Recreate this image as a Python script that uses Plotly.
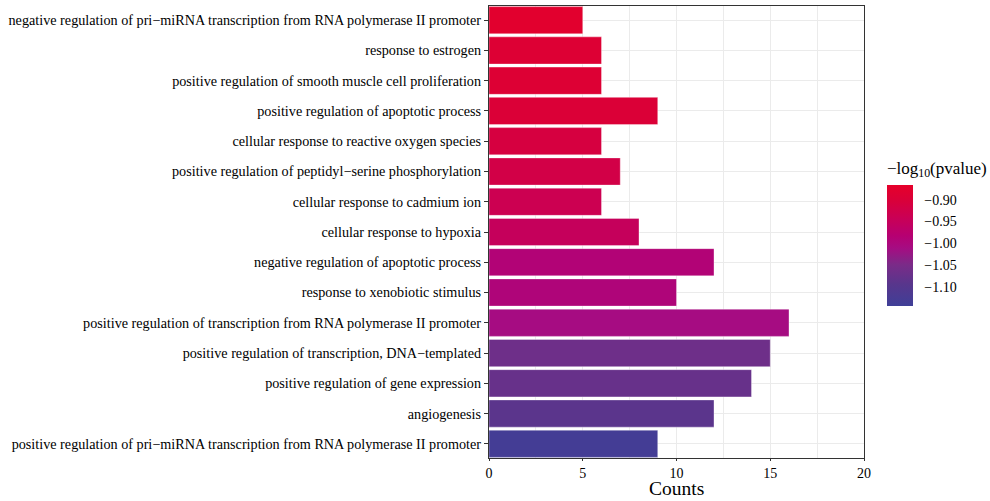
import plotly.graph_objects as go

# GO biological process terms (top to bottom)
terms = [
    "negative regulation of pri−miRNA transcription from RNA polymerase II promoter",
    "response to estrogen",
    "positive regulation of smooth muscle cell proliferation",
    "positive regulation of apoptotic process",
    "cellular response to reactive oxygen species",
    "positive regulation of peptidyl−serine phosphorylation",
    "cellular response to cadmium ion",
    "cellular response to hypoxia",
    "negative regulation of apoptotic process",
    "response to xenobiotic stimulus",
    "positive regulation of transcription from RNA polymerase II promoter",
    "positive regulation of transcription, DNA−templated",
    "positive regulation of gene expression",
    "angiogenesis",
    "positive regulation of pri−miRNA transcription from RNA polymerase II promoter",
]
counts = [5, 6, 6, 9, 6, 7, 6, 8, 12, 10, 16, 15, 14, 12, 9]
neg_log10_p = [-0.875, -0.89, -0.89, -0.895, -0.91, -0.92, -0.935, -0.95,
               -0.99, -0.995, -1.01, -1.065, -1.075, -1.09, -1.135]
cbar_ticks = [-0.90, -0.95, -1.00, -1.05, -1.10]

colorscale = [
    [0.00, "#3F3F97"],
    [0.18, "#58368C"],
    [0.34, "#7A2B88"],
    [0.48, "#A60C82"],
    [0.58, "#B60072"],
    [0.74, "#CB0053"],
    [0.88, "#DA0038"],
    [1.00, "#E6002A"],
]

serif = "Liberation Serif, Times New Roman, serif"

fig = go.Figure(
    go.Bar(
        x=counts,
        y=terms,
        orientation="h",
        width=0.9,
        marker=dict(
            color=neg_log10_p,
            colorscale=colorscale,
            cmin=-1.145,
            cmax=-0.865,
            line=dict(color="rgba(255,255,255,0.6)", width=0.6),
            colorbar=dict(
                title=dict(text="−log<sub>10</sub>(pvalue)", side="top",
                           font=dict(family=serif, size=17, color="#000")),
                x=1.061, xanchor="left", xref="paper",
                y=0.336, yanchor="bottom",
                len=148, lenmode="pixels",
                thickness=26, thicknessmode="pixels",
                outlinewidth=0, xpad=0, ypad=0,
                tickvals=cbar_ticks,
                tickformat=".2f",
                ticks="outside", ticklen=9, tickcolor="rgba(255,255,255,0)", tickwidth=1,
                tickfont=dict(family=serif, size=14, color="#000"),
            ),
        ),
        showlegend=False,
    )
)

fig.update_layout(
    width=990, height=501,
    margin=dict(l=489, r=126, t=6, b=43, autoexpand=False),
    paper_bgcolor="white",
    plot_bgcolor="white",
    font=dict(family=serif, color="#000"),
    bargap=0.1,
    annotations=[
        dict(text="Counts", xref="paper", yref="paper", x=0.5, y=-0.092,
             xanchor="center", yanchor="bottom", showarrow=False, borderpad=0,
             font=dict(family=serif, size=19.5, color="#000")),
    ],
)

fig.update_xaxes(
    range=[0, 20],
    tickvals=[0, 5, 10, 15, 20],
    ticks="outside", ticklen=2, tickcolor="#333", tickwidth=1,
    tickfont=dict(family=serif, size=14, color="#000"),
    showgrid=True, gridcolor="#EBEBEB", gridwidth=1,
    minor=dict(dtick=2.5, showgrid=True, gridcolor="#EBEBEB", gridwidth=0.6),
    showline=True, linecolor="#333", linewidth=1.2, mirror=True,
    zeroline=False,
)

fig.update_yaxes(
    categoryorder="array",
    categoryarray=terms[::-1],
    range=[-0.47, 14.47],
    ticks="outside", ticklen=4, tickcolor="#333", tickwidth=1,
    tickfont=dict(family=serif, size=14.2, color="#000"),
    showgrid=True, gridcolor="#EBEBEB", gridwidth=1,
    showline=True, linecolor="#333", linewidth=1.2, mirror=True,
    zeroline=False,
)

fig.write_html("out.html")
